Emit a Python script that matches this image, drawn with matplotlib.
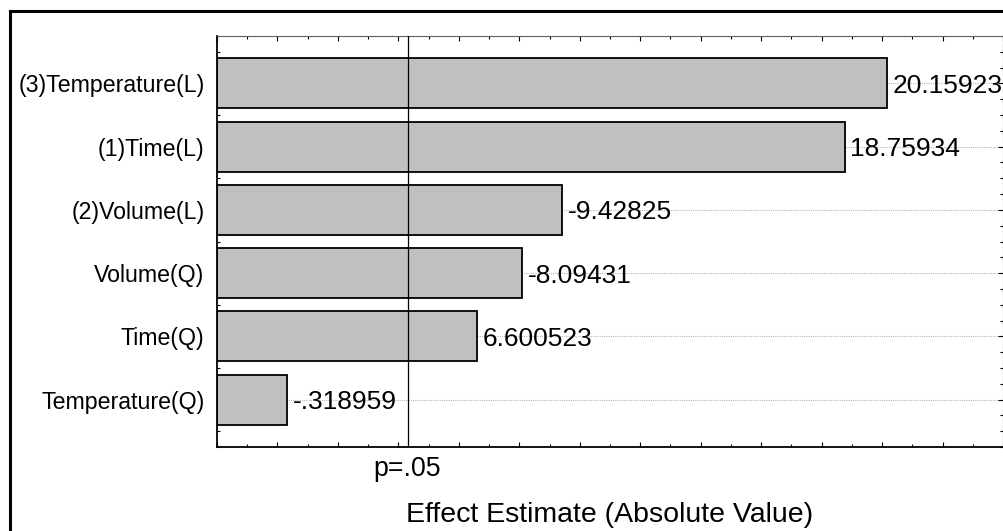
import matplotlib
matplotlib.use("Agg")
import matplotlib.pyplot as plt
import matplotlib.transforms as mtransforms
from matplotlib.patches import Rectangle
from matplotlib.ticker import MultipleLocator, NullFormatter
import numpy as np

# ---- data ----
categories = ["(3)Temperature(L)", "(1)Time(L)", "(2)Volume(L)",
              "Volume(Q)", "Time(Q)", "Temperature(Q)"]
effects = [20.15923, 18.75934, -9.42825, -8.09431, 6.600523, -0.318959]
t_crit = 4.303          # p = .05 critical value
p_label = "p=.05"
x_label = "Effect Estimate (Absolute Value)"
x_min, x_max = -2, 24

plt.rcParams['font.family'] = ['Liberation Sans', 'DejaVu Sans']

W, H = 1004, 531
fig = plt.figure(figsize=(W / 100, H / 100), dpi=100)
ax = fig.add_axes([217 / W, 84 / H, 786 / W, 411 / H])

abs_eff = np.abs(effects)
ypos = np.arange(len(categories))

ax.barh(ypos, abs_eff - x_min, left=x_min, height=0.79,
        color="#c0c0c0", edgecolor="black", linewidth=1.3, zorder=2)

def fmt(v):
    s = "%.7g" % v
    s = s.replace("-0.", "-.")
    if s.startswith("0."):
        s = s[1:]
    return s

for y, a, e in zip(ypos, abs_eff, effects):
    ax.annotate(fmt(e), xy=(a, y), xytext=(4, 0), textcoords="offset points",
                ha="left", va="center_baseline", fontsize=19, zorder=4)

ax.axvline(t_crit, color="black", linewidth=0.9, zorder=3)

ax.set_xlim(x_min, x_max)
ax.set_ylim(len(categories) - 0.25, -0.75)

ax.set_yticks(ypos)
ax.set_yticklabels(categories, fontsize=16.7)
ax.yaxis.set_minor_locator(MultipleLocator(0.25))
ax.xaxis.set_major_locator(MultipleLocator(2))
ax.xaxis.set_minor_locator(MultipleLocator(1))
ax.xaxis.set_major_formatter(NullFormatter())

ax.tick_params(axis="both", which="major", direction="in", length=3.5,
               width=0.8, top=True, right=True, color="black")
ax.tick_params(axis="both", which="minor", direction="in", length=2,
               width=0.8, top=True, right=True, color="black")
ax.tick_params(axis="y", which="major", pad=9)

ax.grid(axis="y", which="major", linestyle=(0, (1, 1)), color="#b8b8b8",
        linewidth=0.8, zorder=1)
ax.set_axisbelow(True)

for side in ["left", "bottom"]:
    ax.spines[side].set_linewidth(1.3)
    ax.spines[side].set_color("black")
for side in ["top", "right"]:
    ax.spines[side].set_linewidth(0.8)
    ax.spines[side].set_color("#606060")

trans = mtransforms.blended_transform_factory(ax.transData, fig.transFigure)
ax.text(t_crit, 1 - 476 / H, p_label, transform=trans, ha="center",
        va="baseline", fontsize=19.3)

ax.set_xlabel(x_label, fontsize=20.5, va="baseline")
ax.xaxis.set_label_coords(0.5, (H - 522 - 84) / 411)

# outer frame (extends past right and bottom edges)
frame = Rectangle((9.5 / W, -0.5), 2.0, 1.5 - 11.3 / H, transform=fig.transFigure,
                  fill=False, edgecolor="black", linewidth=2.2, clip_on=False)
fig.add_artist(frame)

fig.savefig("out.png", dpi=100)
